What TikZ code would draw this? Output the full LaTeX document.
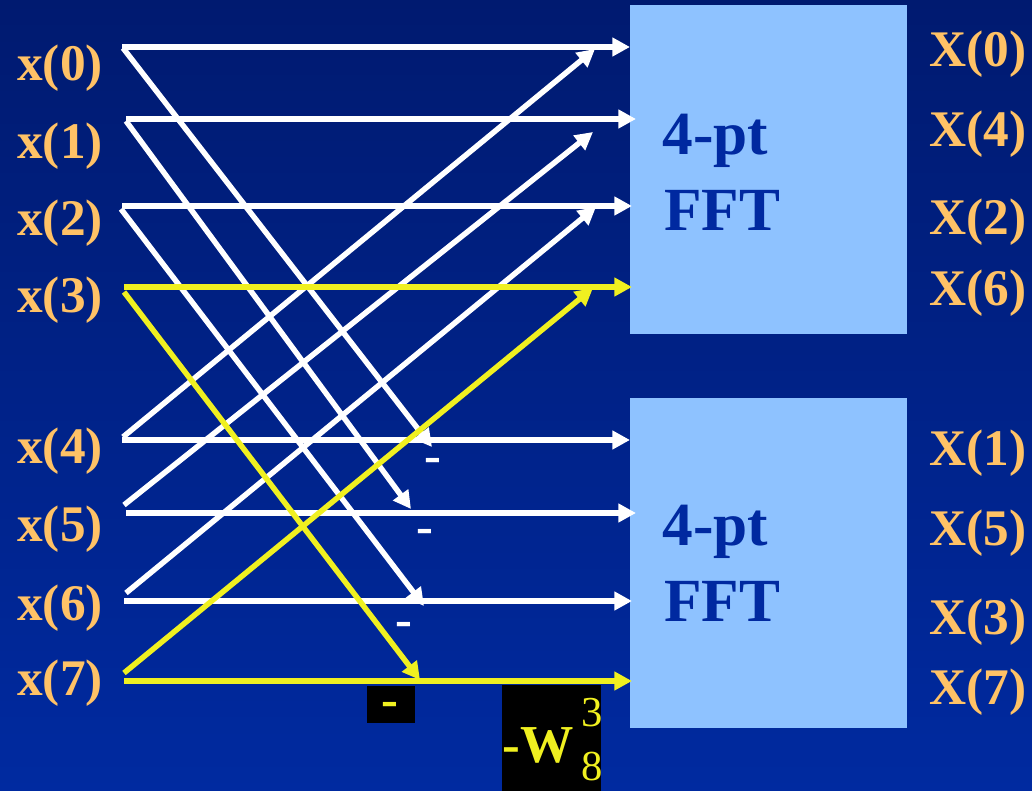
\documentclass[tikz,border=0pt]{standalone}
\usepackage{fontspec}
\setmainfont{Liberation Serif}
\usetikzlibrary{arrows.meta}
\definecolor{bgtop}{HTML}{001A70}
\definecolor{bgbot}{HTML}{002AA0}
\definecolor{lab}{HTML}{FFC266}
\definecolor{yel}{HTML}{F0F020}
\definecolor{boxc}{HTML}{8EC2FF}
\definecolor{fftc}{HTML}{0029A0}
\begin{document}
\begin{tikzpicture}[x=0.75pt,y=-0.75pt,
  wire/.style={line width=4.1pt,-{Triangle[length=13.25pt,width=13.5pt]}},
  wwire/.style={wire,draw=white},
  ywire/.style={wire,draw=yel},
  lbl/.style={text=lab,font=\fontsize{38.5}{40}\selectfont\bfseries,inner sep=0pt,anchor=base west},
  fftbox/.style={fill=boxc,draw=none,inner sep=0pt,anchor=north west,minimum width=207.75pt},
  fftlbl/.style={text=fftc,font=\fontsize{46}{50}\selectfont\bfseries,inner sep=0pt,anchor=base west},
  minus/.style={font=\fontsize{38}{40}\selectfont\bfseries,inner sep=0pt,anchor=base},
  blackbox/.style={fill=black,draw=none,inner sep=0pt,anchor=north west}
]
\path[use as bounding box] (0,0) rectangle (1032,791);
\shade[top color=bgtop,bottom color=bgbot] (0,0) rectangle (1032,791);

% FFT boxes
\node[fftbox,minimum height=246.75pt] (fftA) at (630,5) {};
\node[fftbox,minimum height=247.5pt] (fftB) at (630,398) {};
\node[fftlbl] (fftA1) at (662.5,155) {4-pt};
\node[fftlbl] (fftA2) at (664,231) {FFT};
\node[fftlbl] (fftB1) at (662.5,545) {4-pt};
\node[fftlbl] (fftB2) at (664,621) {FFT};

% black label boxes
\node[blackbox,minimum width=36pt,minimum height=27.75pt] (mbox) at (367,686) {};
\node[blackbox,minimum width=74.25pt,minimum height=79.5pt] (wbox) at (502,685) {};

% input labels
\node[lbl] (x0) at (17,81) {x(0)};
\node[lbl] (x1) at (17,159) {x(1)};
\node[lbl] (x2) at (17,236) {x(2)};
\node[lbl] (x3) at (17,313) {x(3)};
\node[lbl] (x4) at (17,464) {x(4)};
\node[lbl] (x5) at (17,541) {x(5)};
\node[lbl] (x6) at (17,620) {x(6)};
\node[lbl] (x7) at (17,695) {x(7)};

% output labels
\node[lbl] (X0) at (929,67) {X(0)};
\node[lbl] (X4) at (929,147) {X(4)};
\node[lbl] (X2) at (929,235) {X(2)};
\node[lbl] (X6) at (929,306) {X(6)};
\node[lbl] (X1) at (929,465) {X(1)};
\node[lbl] (X5) at (929,545) {X(5)};
\node[lbl] (X3) at (929,634) {X(3)};
\node[lbl] (X7) at (929,704) {X(7)};

% start points
\coordinate (s0) at (122,47);
\coordinate (s1) at (126,119);
\coordinate (s2) at (122,206);
\coordinate (s3) at (124,287);
\coordinate (s4) at (122,440);
\coordinate (s5) at (126,513);
\coordinate (s6) at (124,601);
\coordinate (s7) at (124,681);
\coordinate (d0) at (123,48);
\coordinate (d1) at (126,121);
\coordinate (d2) at (121,209);
\coordinate (d3) at (124,292);
\coordinate (u4) at (123,437);
\coordinate (u5) at (124,505);
\coordinate (u6) at (126,593);
\coordinate (u7) at (124,673);
% end points on box edges
\coordinate (e0) at (630,47);
\coordinate (e1) at (636,119);
\coordinate (e2) at (632,206);
\coordinate (e3) at (632,287);
\coordinate (e4) at (630,440);
\coordinate (e5) at (636,513);
\coordinate (e6) at (632,601);
\coordinate (e7) at (632,681);
% diagonal tips
\coordinate (t04) at (432,447);
\coordinate (t15) at (411,509);
\coordinate (t26) at (424,606);
\coordinate (t37) at (420,680);
\coordinate (t40) at (595,49);
\coordinate (t51) at (593,132);
\coordinate (t62) at (596,207);
\coordinate (t73) at (593,288);

% white wires
\draw[wwire] (s0) -- (e0);
\draw[wwire] (s1) -- (e1);
\draw[wwire] (s2) -- (e2);
\draw[wwire] (s4) -- (e4);
\draw[wwire] (s5) -- (e5);
\draw[wwire] (s6) -- (e6);
\draw[wwire] (d0) -- (t04);
\draw[wwire] (d1) -- (t15);
\draw[wwire] (d2) -- (t26);
\draw[wwire] (u4) -- (t40);
\draw[wwire] (u5) -- (t51);
\draw[wwire] (u6) -- (t62);
% yellow wires
\draw[ywire] (s3) -- (e3);
\draw[ywire] (s7) -- (e7);
\draw[ywire] (d3) -- (t37);
\draw[ywire] (u7) -- (t73);

% minus signs
\node[minus,text=white] (m1) at (433,473) {-};
\node[minus,text=white] (m2) at (425,543) {-};
\node[minus,text=white] (m3) at (404,636) {-};
\node[minus,text=yel] (m4) at (390,716) {-};

% twiddle factor
\node[text=yel,font=\fontsize{40}{42}\selectfont\bfseries,inner sep=0pt,anchor=base west] (wl) at (502.7,762) {-W};
\node[text=yel,font=\fontsize{32}{34}\selectfont,inner sep=0pt,anchor=base west] (w3) at (581,726) {3};
\node[text=yel,font=\fontsize{32}{34}\selectfont,inner sep=0pt,anchor=base west] (w8) at (581,780) {8};
\end{tikzpicture}
\end{document}
